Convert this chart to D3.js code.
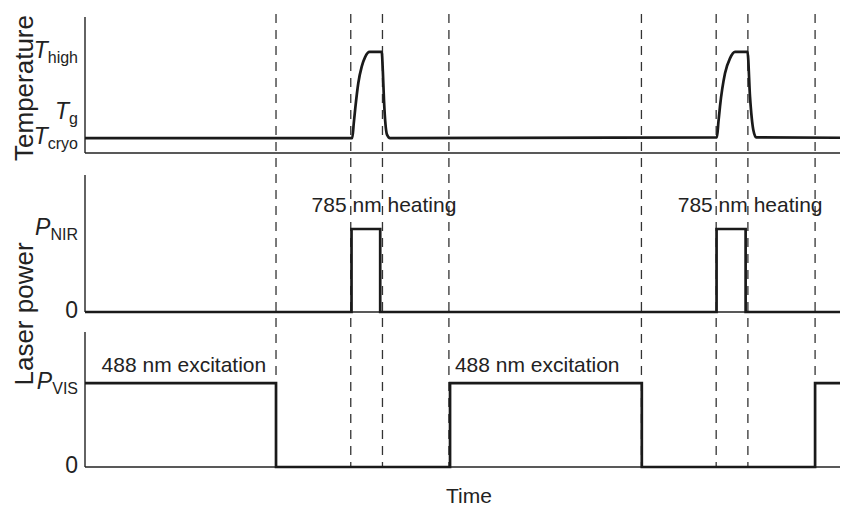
<!DOCTYPE html>
<html>
<head>
<meta charset="utf-8">
<script src="https://cdn.jsdelivr.net/npm/d3@7"></script>
<style>
  body { margin: 0; background: #fff; }
  svg { display: block; font-family: "Liberation Sans", Arial, sans-serif; }
</style>
</head>
<body>
<div id="area"></div>
<script>
// time axis, arbitrary units (0..100)
const timeDomain = [0, 100]

// temperature trace: [time, level]
const tempTrace = [
  [0, 1.1], [35.4, 1.1], [35.6, 2.2], [35.8, 3.3], [36.2, 5.15], [36.65, 6.35],
  [37.1, 7.05], [37.7, 7.43], [39.3, 7.43], [39.45, 6.0], [39.6, 3.9], [39.8, 2.1],
  [40.0, 1.35], [40.4, 1.1], [83.7, 1.15], [83.9, 2.3], [84.1, 3.4], [84.77, 5.86],
  [85.43, 6.96], [86.1, 7.43], [87.75, 7.43], [88.08, 4.14], [88.52, 1.69],
  [88.9, 1.15], [100, 1.12]
]
// laser power traces, step after each point
const nirTrace = [[0, 0], [35.3, 6.06], [39.1, 0], [83.65, 6.06], [87.5, 0], [100, 0]]
const visTrace = [[0, 6.22], [25.3, 0], [48.35, 6.22], [73.75, 0], [96.7, 6.22], [100, 6.22]]

// vertical dashed markers
const markerTimes = [25.3, 35.2, 39.4, 48.2, 73.7, 83.6, 87.8, 96.7]

// tick labels: [value, main letter, subscript]
const tempTicks = [[7.43, "T", "high"], [2.94, "T", "g"], [1.1, "T", "cryo"]]
const nirTicks = [[6.06, "P", "NIR"], [0, "0", ""]]
const visTicks = [[6.22, "P", "VIS"], [0, "0", ""]]

// annotations: [time, level, text, anchor]
const nirNotes = [[39.6, 7.3, "785 nm heating", "middle"], [88.1, 7.3, "785 nm heating", "middle"]]
const visNotes = [[2.2, 7.05, "488 nm excitation", "start"], [49.0, 7.05, "488 nm excitation", "start"]]

const width = 853, height = 507
const x = d3.scaleLinear().domain(timeDomain).range([85, 840])

const panels = [
  {trace: tempTrace, ticks: tempTicks, notes: [], range: [153, 17], curve: d3.curveMonotoneX},
  {trace: nirTrace, ticks: nirTicks, notes: nirNotes, range: [312, 175], curve: d3.curveStepAfter},
  {trace: visTrace, ticks: visTicks, notes: visNotes, range: [467, 332], curve: d3.curveStepAfter}
]

const svg = d3.select("#area").append("svg")
  .attr("width", width)
  .attr("height", height)

// dashed markers behind everything
svg.append("g")
  .selectAll("line")
  .data(markerTimes)
  .join("line")
  .attr("x1", d => x(d)).attr("x2", d => x(d))
  .attr("y1", 14).attr("y2", 467)
  .attr("stroke", "#333")
  .attr("stroke-width", 1.3)
  .attr("stroke-dasharray", "9,7")

panels.forEach(p => {
  const y = d3.scaleLinear().domain([0, 10]).range(p.range)
  const g = svg.append("g")

  // axes: left line and bottom line
  g.append("line")
    .attr("x1", x(0)).attr("x2", x(0))
    .attr("y1", y(10)).attr("y2", y(0))
    .attr("stroke", "#222").attr("stroke-width", 1.4)
  g.append("line")
    .attr("x1", x(0)).attr("x2", x(100))
    .attr("y1", y(0)).attr("y2", y(0))
    .attr("stroke", "#222").attr("stroke-width", 1.4)

  const line = d3.line()
    .x(d => x(d[0]))
    .y(d => y(d[1]))
    .curve(p.curve)

  g.append("path")
    .datum(p.trace)
    .attr("fill", "none")
    .attr("stroke", "#1a1a1a")
    .attr("stroke-width", 2.7)
    .attr("stroke-linejoin", "miter")
    .attr("d", line)

  const tick = g.append("g")
    .selectAll("text")
    .data(p.ticks)
    .join("text")
    .attr("x", 78)
    .attr("y", d => y(d[0]) + 6)
    .attr("text-anchor", "end")
    .attr("font-size", 23)
    .attr("fill", "#222")
  tick.append("tspan")
    .attr("font-style", d => d[2] ? "italic" : "normal")
    .text(d => d[1])
  tick.filter(d => d[2]).append("tspan")
    .attr("font-size", 16)
    .attr("dy", 5)
    .text(d => d[2])

  g.append("g")
    .selectAll("text")
    .data(p.notes)
    .join("text")
    .attr("x", d => x(d[0]))
    .attr("y", d => y(d[1]))
    .attr("text-anchor", d => d[3])
    .attr("font-size", 21)
    .attr("fill", "#222")
    .text(d => d[2])
})

// axis titles
svg.append("text")
  .attr("transform", "translate(33,88) rotate(-90)")
  .attr("text-anchor", "middle")
  .attr("font-size", 26)
  .attr("fill", "#222")
  .text("Temperature")

svg.append("text")
  .attr("transform", "translate(33,314) rotate(-90)")
  .attr("text-anchor", "middle")
  .attr("font-size", 26)
  .attr("fill", "#222")
  .text("Laser power")

svg.append("text")
  .attr("x", 469)
  .attr("y", 503)
  .attr("text-anchor", "middle")
  .attr("font-size", 21)
  .attr("fill", "#222")
  .text("Time")
</script>
</body>
</html>
